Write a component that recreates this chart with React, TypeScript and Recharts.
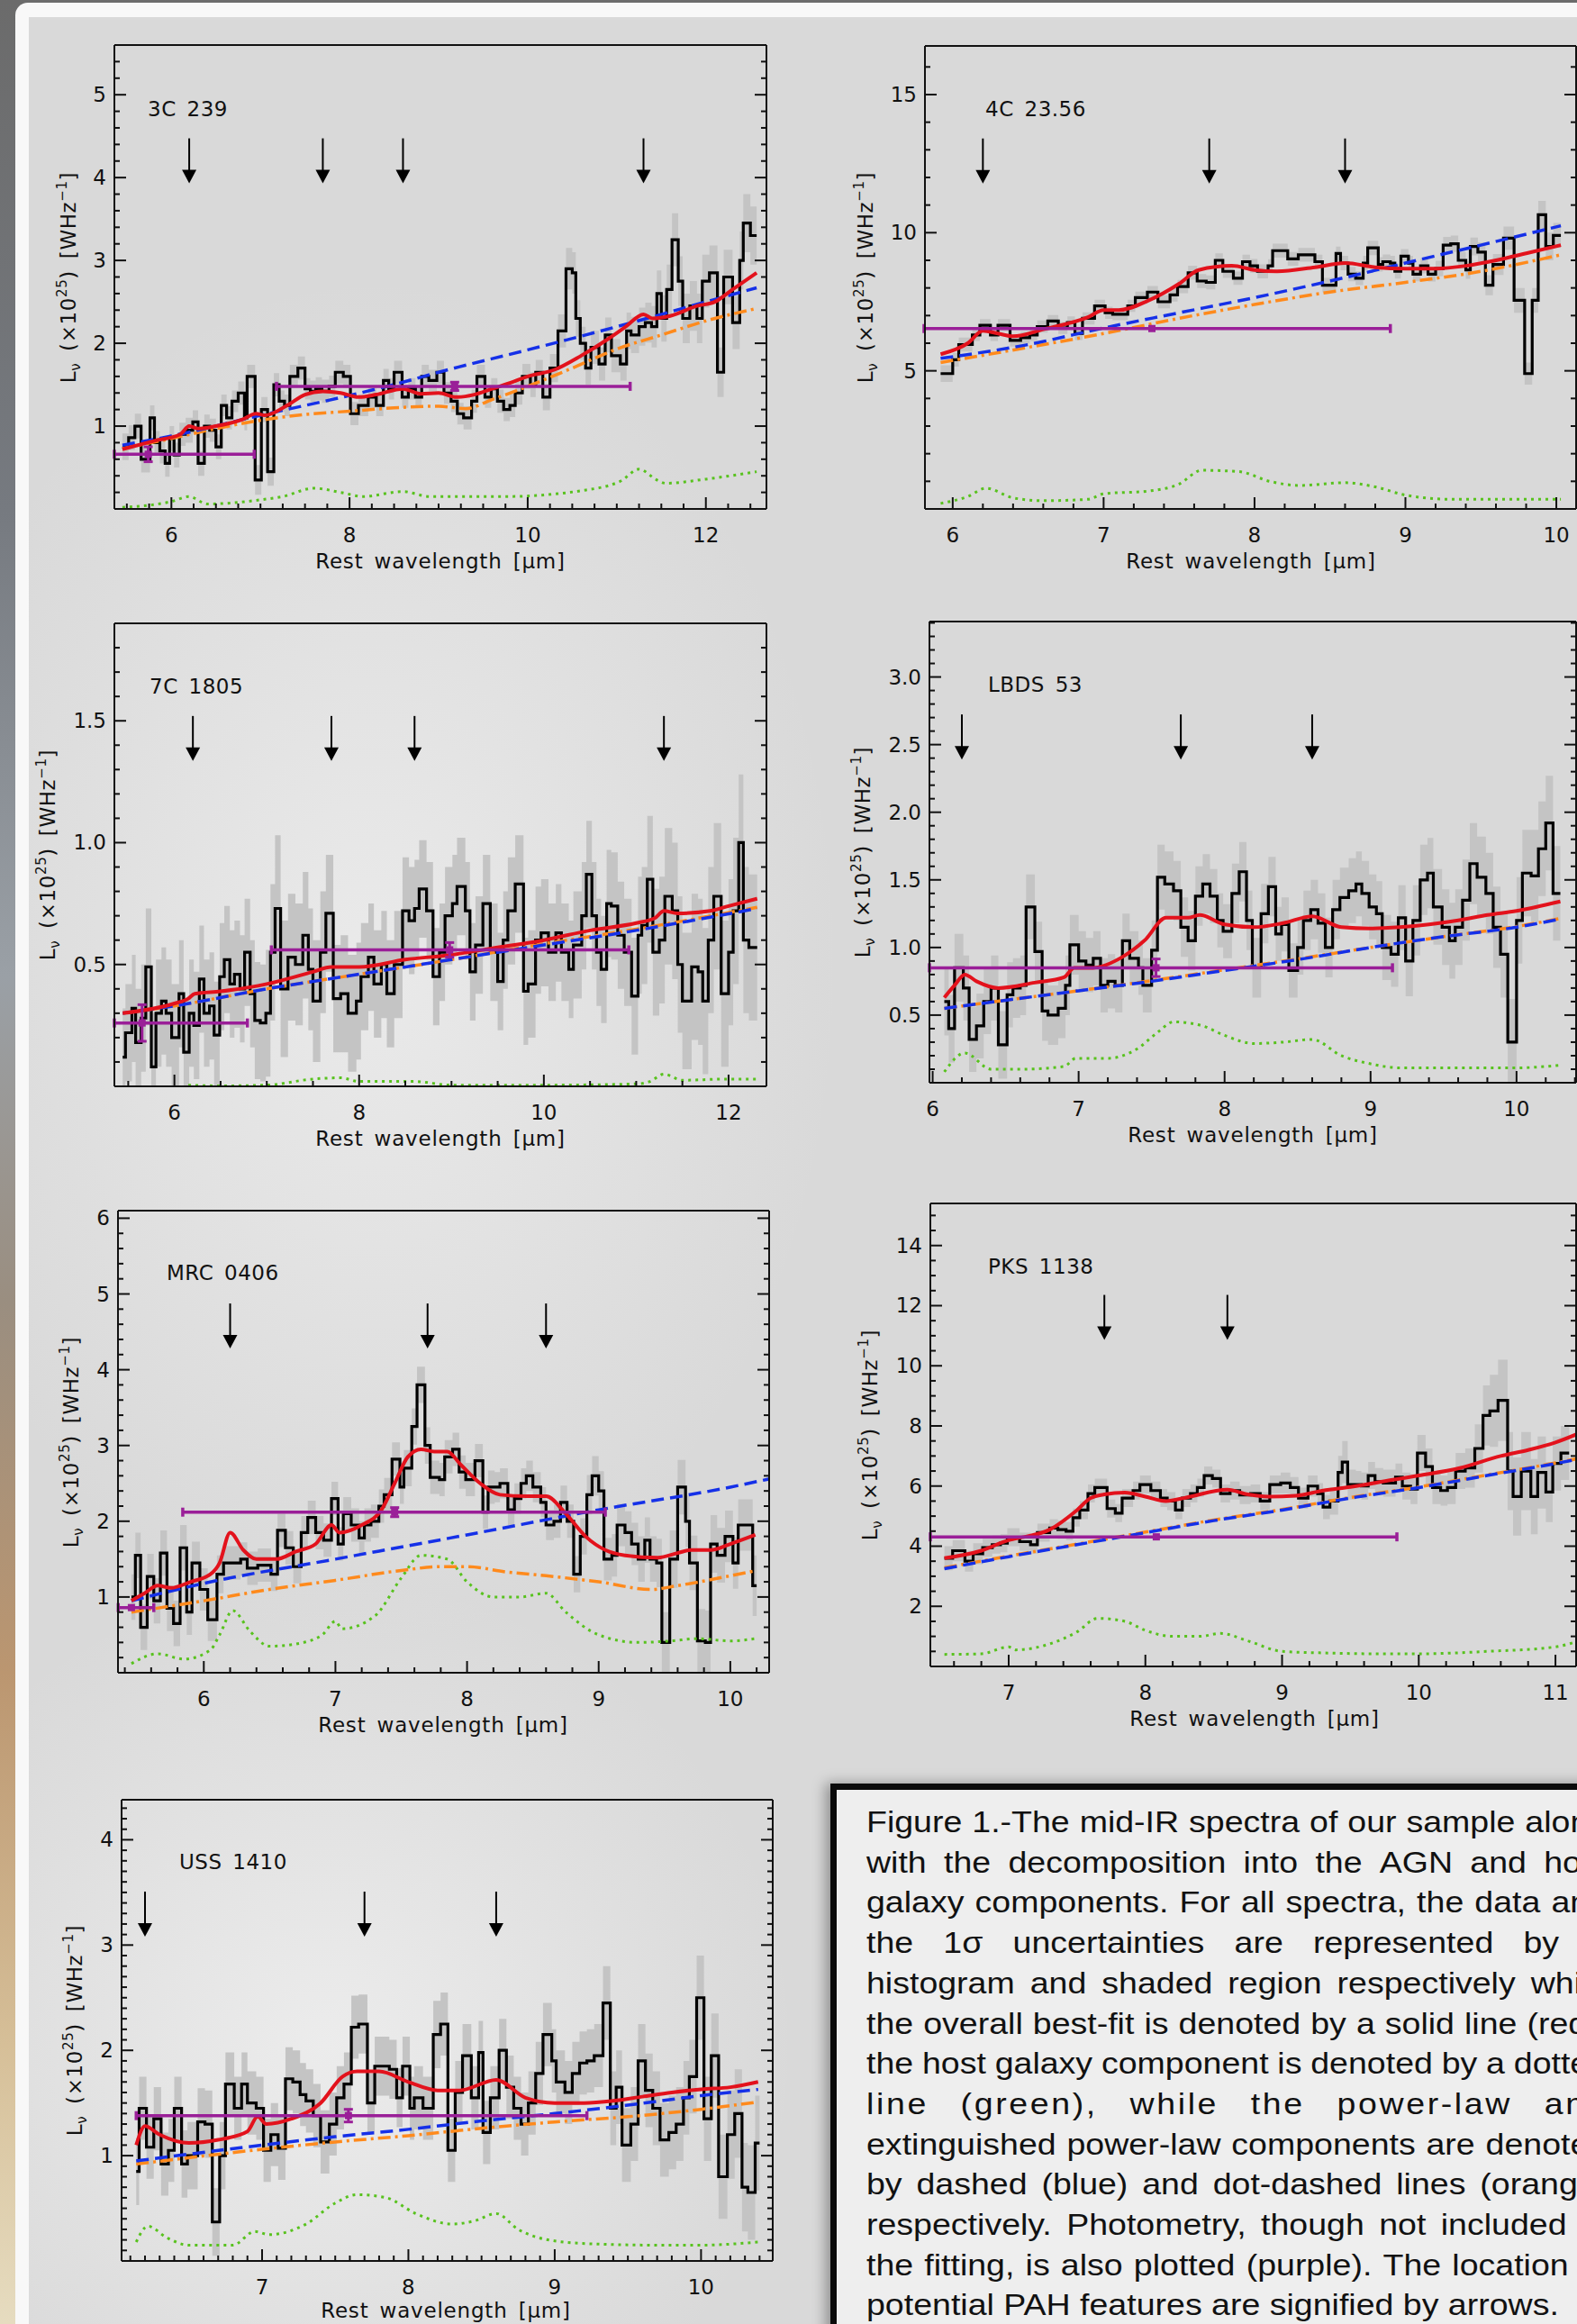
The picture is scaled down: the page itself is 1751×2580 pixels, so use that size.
import React from 'react';
import { ComposedChart, Line, Area, Scatter, XAxis, YAxis, ErrorBar } from 'recharts';

const FONT = "'DejaVu Sans', 'Liberation Sans', sans-serif";
const INK = '#111111';
const RED = '#e3121c';
const BLUE = '#1530e8';
const ORANGE = '#ff8a1c';
const GREEN = '#58c21e';
const PURPLE = '#9a1f98';
const SHADE = '#c4c4c4';

// ---------------- Panel 1: 3C 239 ----------------
const p1Wave = [5.45,5.52,5.59,5.66,5.76,5.81,5.87,5.93,5.98,6.03, 6.09,6.16,6.24,6.30,6.37,6.43,6.50,6.56,6.62,6.68, 6.75,6.82,6.85,6.94,7.01,7.08,7.15,7.21,7.27,7.33, 7.42,7.50,7.56,7.62,7.69,7.77,7.84,7.93,8.01,8.10, 8.21,8.30,8.38,8.44,8.50,8.59,8.66,8.74,8.81,8.89, 8.98,9.06,9.14,9.21,9.28,9.37,9.43,9.52,9.59,9.66, 9.73,9.80,9.86,9.94,10.03,10.09,10.17,10.25,10.34,10.43, 10.50,10.54,10.59,10.65,10.71,10.80,10.87,10.94,11.04,11.11, 11.16,11.25,11.32,11.39,11.45,11.50,11.56,11.62,11.69,11.74, 11.82,11.90,11.96,12.04,12.13,12.20,12.30,12.38,12.42,12.50, 12.57];
const p1Flux = [0.75,0.86,1.0,0.6,1.1,0.8,0.7,0.55,0.85,0.65, 0.9,0.95,1.05,0.55,1.0,0.95,0.75,1.25,1.1,1.3, 1.4,1.1,1.6,0.35,1.2,0.45,1.5,1.3,1.25,1.6, 1.7,1.45,1.42,1.45,1.42,1.48,1.65,1.6,1.15,1.25, 1.35,1.25,1.55,1.45,1.65,1.35,1.45,1.35,1.6,1.55, 1.65,1.4,1.3,1.15,1.1,1.3,1.6,1.35,1.45,1.3, 1.2,1.25,1.4,1.6,1.5,1.65,1.35,1.7,2.15,2.9, 2.85,2.3,2.0,1.7,1.95,1.75,2.1,1.85,1.75,2.15, 2.1,2.2,2.25,2.2,2.6,2.3,2.65,3.25,2.75,2.3, 2.45,2.3,2.75,2.85,1.65,2.8,2.25,3.0,3.45,3.3];
const p1Err = [0.16,0.15,0.15,0.16,0.15,0.14,0.15,0.16,0.15,0.15, 0.14,0.15,0.14,0.15,0.14,0.14,0.15,0.13,0.14,0.13, 0.14,0.15,0.14,0.18,0.15,0.17,0.14,0.13,0.13,0.14, 0.14,0.13,0.13,0.14,0.14,0.13,0.14,0.14,0.14,0.13, 0.13,0.13,0.14,0.13,0.14,0.13,0.13,0.13,0.14,0.13, 0.14,0.13,0.13,0.13,0.14,0.14,0.14,0.13,0.13,0.14, 0.14,0.14,0.14,0.15,0.15,0.15,0.16,0.17,0.2,0.25, 0.25,0.22,0.2,0.2,0.2,0.2,0.21,0.2,0.2,0.22, 0.22,0.23,0.24,0.25,0.28,0.28,0.3,0.32,0.3,0.3, 0.3,0.3,0.32,0.33,0.3,0.33,0.32,0.35,0.35,0.35];
const p1FitX = [5.45,5.8,6.1,6.2,6.3,6.5,6.8,6.95,7.05,7.3,7.5,7.7,7.9,8.1,8.3,8.6,8.8,9.0,9.2,9.4,9.6,9.8,10.0,10.3,10.6,10.9,11.1,11.3,11.4,11.6,11.9,12.1,12.3,12.57];
const p1FitY = [0.72,0.82,0.9,1.0,0.97,1.0,1.08,1.15,1.13,1.25,1.38,1.42,1.4,1.35,1.38,1.45,1.39,1.4,1.35,1.38,1.45,1.52,1.6,1.68,1.85,2.05,2.2,2.35,2.3,2.33,2.45,2.5,2.65,2.85];
const p1PlX = [5.45,6.0,7.0,8.0,8.6,9.0,10.0,11.0,12.0,12.57];
const p1PlY = [0.77,0.88,1.13,1.37,1.53,1.65,1.92,2.2,2.5,2.67];
const p1ExtX = [5.45,6.0,6.5,7.0,7.5,8.0,8.5,9.0,9.3,9.6,10.0,10.5,11.0,11.5,12.0,12.57];
const p1ExtY = [0.73,0.85,0.97,1.07,1.14,1.18,1.22,1.24,1.21,1.32,1.48,1.7,1.93,2.1,2.27,2.42];
const p1HostX = [5.45,6.0,6.2,6.4,7.0,7.25,7.6,7.9,8.15,8.6,8.9,9.75,10.6,11.05,11.25,11.45,11.55,12.0,12.57];
const p1HostY = [0.02,0.09,0.15,0.06,0.11,0.15,0.25,0.2,0.15,0.21,0.15,0.15,0.22,0.34,0.48,0.35,0.31,0.36,0.45];
const p1Arrows = [6.2, 7.7, 8.6, 11.3];
const p1PhotX = [5.74, 9.18];
const p1PhotY = [0.66, 1.48];
const p1PhotLo = [0.38, 2.0];
const p1PhotHi = [1.19, 1.97];
const p1PhotYErr = [0.09, 0.05];

// ---------------- Panel 2: 4C 23.56 ----------------
const p2Wave = [5.92,6.00,6.04,6.13,6.18,6.25,6.30,6.38,6.45,6.51, 6.56,6.63,6.70,6.76,6.81,6.86,6.94,7.01,7.06,7.16, 7.21,7.29,7.36,7.44,7.49,7.56,7.62,7.68,7.74,7.79, 7.86,7.92,7.97,8.02,8.09,8.12,8.22,8.29,8.40,8.45, 8.54,8.57,8.62,8.67,8.72,8.75,8.82,8.85,8.90,8.93, 8.97,9.02,9.05,9.10,9.15,9.20,9.25,9.30,9.35,9.40, 9.43,9.48,9.53,9.58,9.65,9.72,9.79,9.84,9.88,9.93, 9.98,10.03];
const p2Flux = [4.9,5.4,5.95,6.3,6.65,6.3,6.65,6.1,6.2,6.3, 6.6,6.8,6.55,6.75,6.35,6.9,7.35,7.1,7.05,7.35, 7.65,7.85,7.5,7.75,8.05,8.55,8.25,8.2,9.0,8.6, 8.35,8.95,8.8,8.6,8.8,9.35,9.05,9.2,8.95,8.1, 9.25,8.9,8.5,8.35,8.9,9.45,8.85,8.95,8.9,8.6, 9.15,8.9,8.5,8.8,8.5,8.7,9.55,9.6,9.0,8.65, 9.5,9.3,8.1,8.85,9.8,7.55,4.9,7.55,10.65,9.5, 9.9];
const p2Err = [0.3,0.25,0.25,0.22,0.22,0.22,0.22,0.22,0.22,0.22, 0.22,0.22,0.22,0.22,0.24,0.22,0.22,0.22,0.22,0.22, 0.22,0.22,0.24,0.24,0.24,0.25,0.25,0.25,0.25,0.24, 0.24,0.25,0.25,0.25,0.24,0.25,0.25,0.25,0.25,0.26, 0.25,0.26,0.26,0.25,0.26,0.26,0.26,0.26,0.26,0.26, 0.26,0.26,0.26,0.27,0.27,0.28,0.3,0.3,0.3,0.32, 0.32,0.34,0.36,0.38,0.42,0.45,0.4,0.45,0.5,0.5, 0.45];
const p2FitX = [5.92,6.1,6.2,6.3,6.4,6.6,6.9,7.0,7.1,7.3,7.5,7.63,7.85,8.0,8.15,8.4,8.6,8.8,9.0,9.2,9.4,9.6,9.8,10.03];
const p2FitY = [5.6,6.0,6.45,6.35,6.25,6.5,6.95,7.2,7.2,7.55,8.15,8.65,8.8,8.65,8.6,8.75,8.9,8.75,8.7,8.7,8.8,9.0,9.25,9.55];
const p2PlX = [5.92,6.5,7.0,7.5,8.0,8.5,9.0,9.5,10.03];
const p2PlY = [5.45,5.95,6.55,7.1,7.65,8.25,8.9,9.55,10.25];
const p2ExtX = [5.92,6.5,7.0,7.5,8.0,8.5,9.0,9.5,10.03];
const p2ExtY = [5.3,5.85,6.35,6.9,7.4,7.85,8.2,8.6,9.2];
const p2HostX = [5.92,6.1,6.22,6.4,6.6,6.9,7.0,7.3,7.5,7.65,7.9,8.1,8.3,8.6,8.8,9.0,9.3,10.03];
const p2HostY = [0.2,0.45,0.75,0.4,0.3,0.35,0.55,0.65,0.9,1.4,1.35,1.0,0.85,0.95,0.8,0.5,0.35,0.35];
const p2Arrows = [6.2, 7.7, 8.6];
const p2PhotX = [7.32];
const p2PhotY = [6.53];
const p2PhotLo = [1.51];
const p2PhotHi = [1.58];
const p2PhotYErr = [0];

// ---------------- Panel 3: 7C 1805 ----------------
const p3Wave = [5.44,5.47,5.54,5.58,5.64,5.69,5.75,5.80,5.86,5.91, 5.97,6.05,6.10,6.16,6.21,6.27,6.32,6.38,6.43,6.49, 6.54,6.60,6.65,6.71,6.76,6.82,6.87,6.93,6.99,7.04, 7.09,7.15,7.23,7.31,7.39,7.45,7.50,7.58,7.64,7.72, 7.80,7.88,7.97,8.02,8.10,8.16,8.24,8.30,8.38,8.47, 8.54,8.60,8.65,8.73,8.80,8.87,8.93,9.01,9.06,9.15, 9.20,9.26,9.34,9.42,9.50,9.56,9.61,9.69,9.78,9.83, 9.91,9.97,10.05,10.13,10.19,10.27,10.32,10.41,10.46,10.52, 10.57,10.62,10.68,10.73,10.80,10.87,10.95,11.02,11.06,11.12, 11.18,11.25,11.31,11.39,11.45,11.50,11.60,11.67,11.72,11.78, 11.84,11.92,12.00,12.05,12.11,12.16,12.22,12.31];
const p3Flux = [0.12,0.22,0.32,0.18,0.28,0.49,0.08,0.3,0.35,0.3, 0.2,0.38,0.14,0.3,0.25,0.44,0.3,0.33,0.21,0.45, 0.52,0.42,0.46,0.4,0.55,0.38,0.27,0.26,0.3,0.55, 0.73,0.4,0.53,0.5,0.62,0.48,0.35,0.55,0.71,0.36, 0.38,0.3,0.35,0.45,0.53,0.42,0.5,0.38,0.5,0.72, 0.68,0.73,0.81,0.72,0.45,0.55,0.7,0.75,0.82,0.72, 0.47,0.58,0.75,0.55,0.43,0.6,0.72,0.83,0.39,0.42, 0.6,0.63,0.55,0.63,0.55,0.48,0.58,0.7,0.87,0.7, 0.55,0.48,0.75,0.74,0.62,0.55,0.37,0.62,0.66,0.85, 0.55,0.6,0.78,0.72,0.5,0.35,0.49,0.47,0.35,0.6, 0.78,0.38,0.55,0.72,1.0,0.6,0.57];
const p3Err = [0.2,0.2,0.22,0.22,0.22,0.24,0.22,0.22,0.22,0.22, 0.22,0.22,0.22,0.22,0.22,0.22,0.22,0.22,0.22,0.22, 0.22,0.22,0.22,0.22,0.22,0.22,0.24,0.24,0.26,0.28, 0.3,0.28,0.26,0.25,0.26,0.25,0.25,0.25,0.24,0.22, 0.24,0.24,0.24,0.22,0.22,0.22,0.22,0.22,0.22,0.22, 0.22,0.2,0.2,0.2,0.2,0.2,0.2,0.2,0.2,0.2, 0.2,0.2,0.2,0.2,0.2,0.2,0.22,0.2,0.22,0.22, 0.22,0.22,0.2,0.2,0.2,0.2,0.22,0.22,0.22,0.22, 0.22,0.22,0.22,0.22,0.22,0.22,0.24,0.24,0.24,0.26, 0.26,0.26,0.28,0.28,0.28,0.28,0.3,0.3,0.3,0.3, 0.3,0.3,0.3,0.3,0.28,0.3,0.3];
const p3FitX = [5.44,6.0,6.15,6.22,6.5,7.0,7.5,7.7,8.0,8.5,9.0,9.5,10.0,10.5,11.0,11.2,11.3,11.45,11.8,12.0,12.31];
const p3FitY = [0.3,0.34,0.36,0.38,0.39,0.42,0.47,0.49,0.49,0.52,0.54,0.57,0.6,0.64,0.67,0.69,0.72,0.71,0.72,0.74,0.77];
const p3PlX = [5.44,6.0,7.0,8.0,9.0,10.0,11.0,12.31];
const p3PlY = [0.3,0.33,0.4,0.46,0.52,0.58,0.64,0.73];
const p3ExtX = [5.44,6.0,7.0,8.0,9.0,10.0,11.0,12.31];
const p3ExtY = [0.3,0.33,0.4,0.46,0.52,0.585,0.645,0.735];
const p3HostX = [6.15,6.5,7.0,7.5,7.8,8.0,8.6,9.0,10.0,11.0,11.15,11.3,11.5,12.0,12.31];
const p3HostY = [0.005,0.002,0.005,0.03,0.035,0.02,0.02,0.005,0.005,0.01,0.02,0.05,0.025,0.03,0.03];
const p3Arrows = [6.2, 7.7, 8.6, 11.3];
const p3PhotX = [5.65, 8.98];
const p3PhotY = [0.26, 0.56];
const p3PhotLo = [0.3, 1.93];
const p3PhotHi = [1.14, 1.94];
const p3PhotYErr = [0.075, 0.03];

// ---------------- Panel 4: LBDS 53 ----------------
const p4Wave = [6.08,6.11,6.15,6.21,6.25,6.30,6.35,6.40,6.45,6.51, 6.55,6.60,6.64,6.70,6.75,6.79,6.86,6.91,6.94,7.00, 7.05,7.10,7.15,7.20,7.25,7.30,7.35,7.41,7.44,7.50, 7.54,7.59,7.65,7.70,7.75,7.80,7.85,7.90,7.95,7.99, 8.05,8.10,8.15,8.19,8.25,8.30,8.35,8.39,8.44,8.50, 8.54,8.59,8.64,8.69,8.74,8.79,8.85,8.90,8.94,8.99, 9.04,9.08,9.14,9.19,9.24,9.29,9.34,9.39,9.43,9.49, 9.54,9.58,9.63,9.68,9.73,9.79,9.84,9.89,9.94,10.00, 10.04,10.10,10.15,10.20,10.25,10.30];
const p4Flux = [0.6,0.4,0.85,0.7,0.32,0.42,0.6,0.7,0.28,0.65, 0.7,0.72,1.3,0.97,0.53,0.5,0.55,0.72,1.02,0.9, 0.87,0.92,0.72,0.75,0.72,1.05,0.92,0.85,0.72,0.98, 1.52,1.47,1.42,1.15,1.05,1.38,1.47,1.38,1.2,1.12, 1.4,1.56,1.2,0.85,1.25,1.45,1.1,1.17,0.83,1.0, 1.2,1.28,1.18,1.0,1.28,1.37,1.42,1.47,1.4,1.3, 1.25,1.0,0.95,1.22,0.9,1.2,1.5,1.55,1.3,1.15, 1.05,1.15,1.35,1.62,1.52,1.4,1.15,0.95,0.3,1.2, 1.55,1.53,1.73,1.92,1.4];
const p4Err = [0.25,0.25,0.25,0.24,0.24,0.24,0.24,0.24,0.25,0.24, 0.22,0.22,0.24,0.22,0.22,0.22,0.22,0.22,0.22,0.22, 0.2,0.2,0.2,0.2,0.2,0.2,0.2,0.2,0.2,0.22, 0.24,0.24,0.22,0.22,0.22,0.22,0.22,0.2,0.2,0.2, 0.22,0.22,0.22,0.22,0.22,0.22,0.2,0.2,0.2,0.2, 0.22,0.22,0.22,0.22,0.22,0.22,0.24,0.24,0.24,0.24, 0.24,0.24,0.24,0.24,0.26,0.26,0.26,0.26,0.28,0.28, 0.28,0.28,0.3,0.3,0.3,0.3,0.3,0.32,0.32,0.32, 0.32,0.34,0.35,0.35,0.35];
const p4FitX = [6.08,6.15,6.22,6.3,6.45,6.7,6.9,6.97,7.1,7.3,7.45,7.6,7.75,7.83,8.0,8.2,8.4,8.6,8.8,9.0,9.2,9.4,9.6,9.8,10.0,10.3];
const p4FitY = [0.63,0.72,0.8,0.75,0.7,0.74,0.78,0.85,0.85,0.93,1.05,1.22,1.22,1.24,1.17,1.15,1.18,1.23,1.15,1.14,1.15,1.17,1.2,1.24,1.27,1.34];
const p4PlX = [6.08,6.5,7.0,7.5,8.0,8.5,9.0,9.5,10.0,10.3];
const p4PlY = [0.55,0.61,0.68,0.75,0.83,0.91,1.0,1.08,1.15,1.21];
const p4ExtX = [6.08,6.5,7.0,7.5,8.0,8.5,9.0,9.5,10.0,10.3];
const p4ExtY = [0.55,0.61,0.68,0.755,0.835,0.915,1.0,1.08,1.155,1.215];
const p4HostX = [6.08,6.22,6.4,6.6,6.9,6.98,7.2,7.4,7.55,7.65,7.85,8.0,8.2,8.4,8.6,8.8,9.0,9.2,9.6,10.0,10.3];
const p4HostY = [0.08,0.22,0.1,0.1,0.12,0.18,0.18,0.25,0.38,0.45,0.42,0.35,0.29,0.3,0.32,0.2,0.14,0.11,0.11,0.11,0.13];
const p4Arrows = [6.2, 7.7, 8.6];
const p4PhotX = [7.53];
const p4PhotY = [0.85];
const p4PhotLo = [1.552];
const p4PhotHi = [1.62];
const p4PhotYErr = [0.065];

// ---------------- Panel 5: MRC 0406 ----------------
const p5Wave = [5.45,5.48,5.52,5.57,5.62,5.67,5.72,5.77,5.82,5.87, 5.91,5.97,6.03,6.10,6.15,6.22,6.28,6.33,6.41,6.51, 6.56,6.62,6.68,6.74,6.79,6.85,6.91,6.97,7.02,7.06, 7.12,7.18,7.22,7.27,7.33,7.37,7.43,7.49,7.52,7.58, 7.62,7.68,7.72,7.79,7.83,7.89,7.94,7.99,8.06,8.12, 8.16,8.21,8.25,8.31,8.36,8.41,8.45,8.50,8.56,8.60, 8.66,8.71,8.76,8.81,8.86,8.91,8.95,9.00,9.04,9.10, 9.14,9.20,9.25,9.30,9.35,9.39,9.44,9.48,9.54,9.60, 9.66,9.69,9.75,9.81,9.85,9.90,9.96,10.02,10.06,10.12, 10.17,10.20];
const p5Flux = [1.0,1.55,0.6,1.27,0.95,1.58,0.85,0.65,1.65,0.8, 1.45,1.1,0.7,1.3,1.45,1.45,1.5,1.38,1.42,1.3, 1.88,1.65,1.4,1.85,2.05,1.85,1.75,2.3,1.7,2.1, 1.95,1.78,1.95,2.0,2.2,2.35,2.82,2.45,2.7,3.25, 3.8,3.0,2.58,2.55,2.85,2.95,2.65,2.55,2.8,2.12, 2.45,2.45,2.5,2.15,2.3,2.5,2.6,2.45,2.25,1.95, 2.0,2.25,2.0,1.3,1.8,2.35,2.6,2.4,1.5,1.55, 1.95,1.85,1.7,1.5,1.75,1.5,1.45,0.4,1.5,2.45, 2.0,1.45,0.42,0.4,1.7,1.55,1.8,1.45,1.95,1.95, 1.15];
const p5Err = [0.3,0.3,0.3,0.3,0.3,0.3,0.3,0.3,0.3,0.3, 0.28,0.28,0.28,0.25,0.22,0.22,0.22,0.22,0.22,0.22, 0.22,0.22,0.22,0.22,0.22,0.22,0.22,0.22,0.22,0.22, 0.22,0.22,0.22,0.22,0.22,0.22,0.22,0.22,0.24,0.24, 0.24,0.24,0.22,0.22,0.22,0.22,0.22,0.22,0.22,0.22, 0.22,0.2,0.2,0.2,0.2,0.2,0.2,0.2,0.2,0.2, 0.22,0.22,0.22,0.24,0.24,0.26,0.26,0.26,0.28,0.28, 0.28,0.28,0.28,0.3,0.3,0.3,0.32,0.4,0.38,0.36, 0.34,0.36,0.42,0.42,0.38,0.36,0.34,0.34,0.34,0.34, 0.4];
const p5FitX = [5.45,5.55,5.65,5.75,5.9,6.05,6.12,6.2,6.3,6.4,6.55,6.7,6.85,6.97,7.03,7.2,7.35,7.45,7.55,7.65,7.75,7.85,7.95,8.1,8.25,8.45,8.6,8.75,8.9,9.05,9.2,9.45,9.6,9.7,9.85,10.0,10.19];
const p5FitY = [0.95,1.05,1.15,1.12,1.2,1.3,1.45,1.85,1.62,1.5,1.5,1.6,1.7,1.95,1.85,1.95,2.15,2.5,2.85,2.95,2.92,2.92,2.75,2.5,2.35,2.33,2.33,2.1,1.8,1.62,1.55,1.52,1.58,1.62,1.62,1.7,1.82];
const p5PlX = [5.45,6.0,7.0,8.0,9.0,10.0,10.3];
const p5PlY = [0.95,1.18,1.5,1.82,2.15,2.45,2.56];
const p5ExtX = [5.45,6.0,6.5,7.0,7.5,7.8,8.0,8.3,8.6,9.0,9.4,9.6,10.0,10.2];
const p5ExtY = [0.8,0.95,1.1,1.22,1.35,1.4,1.4,1.33,1.28,1.2,1.1,1.15,1.28,1.35];
const p5HostX = [5.45,5.65,5.85,6.05,6.12,6.22,6.35,6.5,6.7,6.9,7.0,7.05,7.3,7.5,7.65,7.85,8.0,8.2,8.4,8.6,8.75,9.0,9.3,9.55,9.75,10.0,10.19];
const p5HostY = [0.12,0.25,0.18,0.3,0.5,0.82,0.55,0.35,0.38,0.5,0.68,0.58,0.75,1.25,1.55,1.5,1.2,1.0,1.0,1.05,0.8,0.5,0.4,0.42,0.45,0.42,0.45];
const p5Arrows = [6.2, 7.7, 8.6];
const p5PhotX = [5.45, 7.45];
const p5PhotY = [0.86, 2.12];
const p5PhotLo = [0.1, 1.61];
const p5PhotHi = [0.17, 1.6];
const p5PhotYErr = [0, 0.06];

// ---------------- Panel 6: PKS 1138 ----------------
const p6Wave = [6.53,6.59,6.68,6.74,6.81,6.88,6.94,6.99,7.08,7.16, 7.21,7.30,7.36,7.42,7.47,7.52,7.58,7.63,7.72,7.78, 7.83,7.91,7.96,8.04,8.11,8.16,8.22,8.27,8.33,8.38, 8.43,8.49,8.55,8.62,8.69,8.77,8.84,8.91,8.99,9.06, 9.12,9.19,9.26,9.30,9.35,9.41,9.44,9.48,9.54,9.58, 9.63,9.68,9.74,9.83,9.88,9.94,9.99,10.05,10.10,10.16, 10.21,10.27,10.34,10.41,10.47,10.52,10.58,10.65,10.69,10.75, 10.82,10.87,10.93,10.98,11.04,11.10];
const p6Flux = [3.6,3.85,3.5,3.75,3.95,4.05,4.1,4.3,4.15,4.05, 4.45,4.6,4.55,4.5,4.95,5.2,5.75,5.95,5.25,5.1, 5.6,5.85,6.05,5.85,5.6,5.5,5.2,5.6,5.75,5.95, 6.35,6.25,5.75,5.85,5.7,5.75,5.5,6.05,6.1,5.95, 5.6,6.0,5.75,5.3,5.5,6.45,6.8,6.05,6.05,6.0, 6.35,6.15,6.1,6.3,6.0,5.9,7.1,6.65,5.95,5.85, 5.95,6.5,6.6,7.25,8.35,8.5,8.85,6.5,5.65,6.5, 5.65,6.45,5.8,6.75,7.1];
const p6Err = [0.4,0.35,0.35,0.35,0.3,0.3,0.3,0.3,0.3,0.3, 0.3,0.3,0.3,0.3,0.3,0.3,0.3,0.3,0.3,0.3, 0.3,0.3,0.3,0.3,0.3,0.3,0.3,0.3,0.3,0.3, 0.3,0.3,0.3,0.3,0.3,0.3,0.3,0.3,0.35,0.35, 0.35,0.35,0.35,0.4,0.45,0.55,0.7,0.5,0.45,0.45, 0.45,0.45,0.45,0.45,0.45,0.5,0.6,0.6,0.55,0.5, 0.55,0.6,0.65,0.8,1.0,1.2,1.35,1.3,1.3,1.3, 1.25,1.2,1.0,0.9,0.9];
const p6FitX = [6.53,6.8,7.0,7.05,7.3,7.5,7.6,7.7,7.85,8.0,8.15,8.3,8.6,8.75,8.9,9.1,9.3,9.5,9.8,10.0,10.3,10.6,10.8,11.0,11.17];
const p6FitY = [3.6,3.85,4.2,4.25,4.55,5.2,5.6,5.72,5.78,5.65,5.5,5.62,5.88,5.72,5.65,5.68,5.85,5.97,6.2,6.35,6.6,7.0,7.2,7.45,7.75];
const p6PlX = [6.53,7.0,7.5,8.0,8.5,9.0,9.5,10.0,10.5,11.0,11.17];
const p6PlY = [3.25,3.65,4.05,4.45,4.85,5.2,5.6,5.95,6.35,6.75,6.9];
const p6ExtX = [6.53,7.0,7.5,8.0,8.5,9.0,9.5,10.0,10.5,11.0,11.17];
const p6ExtY = [3.28,3.67,4.07,4.47,4.87,5.22,5.62,5.97,6.37,6.77,6.92];
const p6HostX = [6.53,6.8,7.0,7.05,7.3,7.5,7.65,7.85,8.0,8.2,8.4,8.55,8.75,9.0,9.3,9.7,10.0,10.5,11.0,11.17];
const p6HostY = [0.4,0.42,0.65,0.55,0.75,1.15,1.6,1.5,1.2,1.0,1.0,1.1,0.85,0.5,0.45,0.42,0.42,0.5,0.65,0.85];
const p6Arrows = [7.7, 8.6];
const p6PhotX = [8.08];
const p6PhotY = [4.31];
const p6PhotLo = [1.653];
const p6PhotHi = [1.76];
const p6PhotYErr = [0];

// ---------------- Panel 7: USS 1410 ----------------
const p7Wave = [6.14,6.16,6.21,6.26,6.31,6.36,6.40,6.45,6.49,6.56, 6.61,6.66,6.71,6.75,6.81,6.86,6.90,6.96,7.01,7.06, 7.11,7.16,7.21,7.26,7.30,7.35,7.40,7.46,7.51,7.56, 7.61,7.66,7.72,7.77,7.82,7.87,7.92,7.96,8.01,8.04, 8.10,8.17,8.22,8.27,8.32,8.37,8.43,8.48,8.51,8.56, 8.62,8.67,8.72,8.77,8.82,8.87,8.92,8.98,9.01,9.07, 9.12,9.17,9.22,9.27,9.33,9.38,9.42,9.46,9.52,9.57, 9.62,9.67,9.72,9.78,9.83,9.88,9.92,9.97,10.02,10.07, 10.12,10.18,10.23,10.28,10.32,10.37,10.40];
const p7Flux = [0.85,1.45,1.08,1.35,0.92,1.05,1.45,0.92,1.0,1.32, 1.3,0.37,1.0,1.68,1.45,1.68,1.5,1.45,1.05,1.2, 1.07,1.73,1.7,1.58,1.52,1.38,1.13,1.3,1.55,1.68, 2.22,2.25,1.5,1.85,1.85,1.82,1.55,1.85,1.45,1.55, 1.45,2.15,2.25,1.05,1.6,1.95,1.55,1.98,1.22,1.55, 2.0,1.65,1.45,1.3,1.5,1.78,2.15,1.9,1.7,1.6, 1.78,1.88,1.9,1.95,2.45,1.45,1.65,1.1,1.3,1.9, 1.62,1.45,1.15,1.22,1.3,1.55,1.75,2.5,1.35,1.95, 0.8,1.2,1.4,0.7,0.65,1.12];
const p7Err = [0.32,0.3,0.3,0.3,0.3,0.3,0.3,0.32,0.32,0.32, 0.32,0.32,0.32,0.3,0.3,0.3,0.3,0.3,0.3,0.3, 0.3,0.3,0.3,0.3,0.3,0.3,0.3,0.3,0.3,0.3, 0.3,0.28,0.28,0.28,0.28,0.28,0.28,0.28,0.3,0.3, 0.3,0.32,0.3,0.3,0.3,0.3,0.3,0.3,0.3,0.3, 0.3,0.3,0.3,0.3,0.3,0.3,0.3,0.3,0.3,0.3, 0.3,0.3,0.3,0.3,0.35,0.35,0.35,0.35,0.35,0.35, 0.35,0.35,0.35,0.35,0.35,0.35,0.35,0.4,0.4,0.4, 0.4,0.42,0.42,0.42,0.45,0.45];
const p7FitX = [6.14,6.2,6.3,6.5,6.7,6.9,6.97,7.03,7.2,7.4,7.55,7.65,7.8,8.0,8.2,8.35,8.6,8.8,9.0,9.2,9.4,9.6,9.8,10.0,10.2,10.39];
const p7FitY = [1.1,1.28,1.2,1.12,1.15,1.23,1.37,1.3,1.35,1.5,1.75,1.8,1.8,1.7,1.62,1.62,1.72,1.55,1.5,1.5,1.52,1.56,1.6,1.63,1.65,1.7];
const p7PlX = [6.14,7.0,7.5,8.0,8.5,9.0,9.5,10.0,10.39];
const p7PlY = [0.95,1.1,1.18,1.25,1.33,1.4,1.48,1.57,1.63];
const p7ExtX = [6.14,7.0,7.5,8.0,8.5,9.0,9.5,10.0,10.39];
const p7ExtY = [0.92,1.06,1.13,1.19,1.26,1.32,1.37,1.44,1.51];
const p7HostX = [6.14,6.22,6.35,6.5,6.8,6.95,7.05,7.3,7.5,7.65,7.85,8.05,8.3,8.45,8.6,8.75,9.0,9.3,9.7,10.0,10.39];
const p7HostY = [0.18,0.33,0.22,0.15,0.15,0.28,0.25,0.35,0.55,0.63,0.6,0.45,0.35,0.38,0.45,0.3,0.19,0.16,0.15,0.15,0.18];
const p7Arrows = [6.2, 7.7, 8.6];
const p7PhotX = [7.59];
const p7PhotY = [1.38];
const p7PhotLo = [1.45];
const p7PhotHi = [1.63];
const p7PhotYErr = [0.06];

// ---------------- Caption ----------------
const CAPTION_LINES = [
  'Figure 1.-The mid-IR spectra of our sample along',
  'with the decomposition into the AGN and host',
  'galaxy components. For all spectra, the data and',
  'the 1\u03c3 uncertainties are represented by a',
  'histogram and shaded region respectively while',
  'the overall best-fit is denoted by a solid line (red),',
  'the host galaxy component is denoted by a dotted',
  'line (green), while the power-law and',
  'extinguished power-law components are denoted',
  'by dashed (blue) and dot-dashed lines (orange)',
  'respectively. Photometry, though not included in',
  'the fitting, is also plotted (purple). The location of',
  'potential PAH features are signified by arrows.',
];

// ---------------- helpers ----------------
function tickList(d: number[], step: number) {
  const out: number[] = [];
  const start = Math.ceil(d[0] / step - 1e-9);
  for (let i = start; i * step <= d[1] + 1e-9; i++) out.push(Math.round(i * step * 1000) / 1000);
  return out;
}
function histPoints(wave: number[], flux: number[]) {
  const pts = flux.map((f, i) => ({ x: wave[i], y: f }));
  pts.push({ x: wave[flux.length], y: flux[flux.length - 1] });
  return pts;
}
function bandPoints(wave: number[], flux: number[], err: number[]) {
  const pts: any[] = flux.map((f, i) => ({ x: wave[i], band: [f - err[i], f + err[i]] }));
  const n = flux.length;
  pts.push({ x: wave[n], band: [flux[n - 1] - err[n - 1], flux[n - 1] + err[n - 1]] });
  return pts;
}
function curve(xs: number[], ys: number[]) {
  return xs.map((x, i) => ({ x, y: ys[i] }));
}
function photPoints(xs: number[], ys: number[], lo: number[], hi: number[], ye: number[]) {
  return xs.map((x, i) => ({ x, y: ys[i], xe: [lo[i], hi[i]], ye: ye[i] }));
}

const TICK_TXT: any = { fontFamily: FONT, fontSize: 23, fill: INK };

function makeTick(side: string, labels: number[], dec: number) {
  return (props: any) => {
    const { x, y, payload } = props;
    const v = payload.value;
    const major = labels.some((l) => Math.abs(l - v) < 1e-6);
    const len = major ? 13 : 6;
    const st = { stroke: INK, strokeWidth: 2 };
    const lab = major ? Number(v).toFixed(dec) : null;
    if (side === 'b') {
      return (
        <g>
          <line x1={x} y1={y} x2={x} y2={y - len} {...st} />
          {lab !== null && (
            <text x={x} y={y + 29} textAnchor="middle" dominantBaseline="central" style={TICK_TXT}>{lab}</text>
          )}
        </g>
      );
    }
    if (side === 't') return <line x1={x} y1={y} x2={x} y2={y + len} {...st} />;
    if (side === 'l') {
      return (
        <g>
          <line x1={x} y1={y} x2={x + len} y2={y} {...st} />
          {lab !== null && (
            <text x={x - 9} y={y} textAnchor="end" dominantBaseline="central" style={TICK_TXT}>{lab}</text>
          )}
        </g>
      );
    }
    return <line x1={x} y1={y} x2={x - len} y2={y} {...st} />;
  };
}

const ArrowMark = (p: any) => {
  const { cx, cy } = p;
  if (cx == null || cy == null) return <g />;
  return (
    <g>
      <line x1={cx} y1={cy - 50} x2={cx} y2={cy - 12} stroke="#000" strokeWidth={2} />
      <polygon points={`${cx - 8},${cy - 15} ${cx + 8},${cy - 15} ${cx},${cy}`} fill="#000" />
    </g>
  );
};
const PhotMark = (p: any) => {
  const { cx, cy } = p;
  if (cx == null || cy == null) return <g />;
  return <rect x={cx - 4} y={cy - 4} width={8} height={8} fill={PURPLE} />;
};

const PANELS: any[] = [
  { name: '3C 239', L: 127, T: 50, R: 851, B: 565, xd: [5.36, 12.68], yd: [0, 5.6], xl: [6, 8, 10, 12], xm: 0.25, yl: [1, 2, 3, 4, 5], ym: 0.2, yDec: 0,
    wave: p1Wave, flux: p1Flux, err: p1Err, fitX: p1FitX, fitY: p1FitY, plX: p1PlX, plY: p1PlY, extX: p1ExtX, extY: p1ExtY, hostX: p1HostX, hostY: p1HostY,
    arrows: p1Arrows, tip: 3.93, phot: photPoints(p1PhotX, p1PhotY, p1PhotLo, p1PhotHi, p1PhotYErr), nameX: 164, nameY: 121, yTitleX: 76, xTitleX: 489 },
  { name: '4C 23.56', L: 1027, T: 51, R: 1750, B: 565, xd: [5.816, 10.131], yd: [0, 16.76], xl: [6, 7, 8, 9, 10], xm: 0.2, yl: [5, 10, 15], ym: 1, yDec: 0,
    wave: p2Wave, flux: p2Flux, err: p2Err, fitX: p2FitX, fitY: p2FitY, plX: p2PlX, plY: p2PlY, extX: p2ExtX, extY: p2ExtY, hostX: p2HostX, hostY: p2HostY,
    arrows: p2Arrows, tip: 11.78, phot: photPoints(p2PhotX, p2PhotY, p2PhotLo, p2PhotHi, p2PhotYErr), nameX: 1094, nameY: 121, yTitleX: 961, xTitleX: 1389 },
  { name: '7C 1805', L: 127, T: 692, R: 851, B: 1206, xd: [5.35, 12.41], yd: [0, 1.9], xl: [6, 8, 10, 12], xm: 0.5, yl: [0.5, 1.0, 1.5], ym: 0.1, yDec: 1,
    wave: p3Wave, flux: p3Flux, err: p3Err, fitX: p3FitX, fitY: p3FitY, plX: p3PlX, plY: p3PlY, extX: p3ExtX, extY: p3ExtY, hostX: p3HostX, hostY: p3HostY,
    arrows: p3Arrows, tip: 1.335, phot: photPoints(p3PhotX, p3PhotY, p3PhotLo, p3PhotHi, p3PhotYErr), nameX: 166, nameY: 762, yTitleX: 53, xTitleX: 489 },
  { name: 'LBDS 53', L: 1032, T: 690, R: 1750, B: 1202, xd: [5.978, 10.408], yd: [0, 3.41], xl: [6, 7, 8, 9, 10], xm: 0.2, yl: [0.5, 1.0, 1.5, 2.0, 2.5, 3.0], ym: 0.1, yDec: 1,
    wave: p4Wave, flux: p4Flux, err: p4Err, fitX: p4FitX, fitY: p4FitY, plX: p4PlX, plY: p4PlY, extX: p4ExtX, extY: p4ExtY, hostX: p4HostX, hostY: p4HostY,
    arrows: p4Arrows, tip: 2.39, phot: photPoints(p4PhotX, p4PhotY, p4PhotLo, p4PhotHi, p4PhotYErr), nameX: 1097, nameY: 760, yTitleX: 958, xTitleX: 1391 },
  { name: 'MRC 0406', L: 131, T: 1344, R: 854, B: 1857, xd: [5.348, 10.295], yd: [0, 6.1], xl: [6, 7, 8, 9, 10], xm: 0.2, yl: [1, 2, 3, 4, 5, 6], ym: 0.2, yDec: 0,
    wave: p5Wave, flux: p5Flux, err: p5Err, fitX: p5FitX, fitY: p5FitY, plX: p5PlX, plY: p5PlY, extX: p5ExtX, extY: p5ExtY, hostX: p5HostX, hostY: p5HostY,
    arrows: p5Arrows, tip: 4.28, phot: photPoints(p5PhotX, p5PhotY, p5PhotLo, p5PhotHi, p5PhotYErr), nameX: 185, nameY: 1413, yTitleX: 79, xTitleX: 492 },
  { name: 'PKS 1138', L: 1033, T: 1336, R: 1750, B: 1850, xd: [6.427, 11.151], yd: [0, 15.4], xl: [7, 8, 9, 10, 11], xm: 0.2, yl: [2, 4, 6, 8, 10, 12, 14], ym: 0.5, yDec: 0,
    wave: p6Wave, flux: p6Flux, err: p6Err, fitX: p6FitX, fitY: p6FitY, plX: p6PlX, plY: p6PlY, extX: p6ExtX, extY: p6ExtY, hostX: p6HostX, hostY: p6HostY,
    arrows: p6Arrows, tip: 10.86, phot: photPoints(p6PhotX, p6PhotY, p6PhotLo, p6PhotHi, p6PhotYErr), nameX: 1097, nameY: 1406, yTitleX: 966, xTitleX: 1393 },
  { name: 'USS 1410', L: 135, T: 1998, R: 858, B: 2510, xd: [6.04, 10.49], yd: [0, 4.38], xl: [7, 8, 9, 10], xm: 0.1, yl: [1, 2, 3, 4], ym: 0.1, yDec: 0,
    wave: p7Wave, flux: p7Flux, err: p7Err, fitX: p7FitX, fitY: p7FitY, plX: p7PlX, plY: p7PlY, extX: p7ExtX, extY: p7ExtY, hostX: p7HostX, hostY: p7HostY,
    arrows: p7Arrows, tip: 3.08, phot: photPoints(p7PhotX, p7PhotY, p7PhotLo, p7PhotHi, p7PhotYErr), nameX: 199, nameY: 2067, yTitleX: 83, xTitleX: 495, xTitleDy: 55 },
];

const LABEL_STYLE: any = { position: 'absolute', fontFamily: FONT, fontSize: 23, color: INK, whiteSpace: 'nowrap', lineHeight: 1 };

function Panel({ c }: any) {
  const mL = 110, mT = 24, mR = 24, mB = 80;
  const W = c.R - c.L + mL + mR;
  const H = c.B - c.T + mT + mB;
  const xTicks = tickList(c.xd, c.xm);
  const yTicks = tickList(c.yd, c.ym);
  const hist = histPoints(c.wave, c.flux);
  const band = bandPoints(c.wave, c.flux, c.err);
  const fit = curve(c.fitX, c.fitY);
  const pl = curve(c.plX, c.plY);
  const ext = curve(c.extX, c.extY);
  const host = curve(c.hostX, c.hostY);
  const arrows = c.arrows.map((x: number) => ({ x, y: c.tip }));
  const axisLine = { stroke: INK, strokeWidth: 2 };
  const common = { xAxisId: 'b', yAxisId: 'l', isAnimationActive: false };
  return (
    <React.Fragment>
      <div style={{ position: 'absolute', left: c.L - mL, top: c.T - mT, width: W, height: H }}>
        <ComposedChart width={W} height={H} margin={{ top: mT - 1, right: mR - 1, bottom: mB - 1, left: mL - 1 }}>
          <XAxis xAxisId="b" dataKey="x" type="number" domain={c.xd} allowDataOverflow ticks={xTicks} interval={0}
            height={1} tickSize={0} tickMargin={0} tickLine={false} axisLine={axisLine} tick={makeTick('b', c.xl, 0)} />
          <XAxis xAxisId="t" orientation="top" type="number" domain={c.xd} allowDataOverflow ticks={xTicks} interval={0}
            height={1} tickSize={0} tickMargin={0} tickLine={false} axisLine={axisLine} tick={makeTick('t', c.xl, 0)} />
          <YAxis yAxisId="l" type="number" domain={c.yd} allowDataOverflow ticks={yTicks} interval={0}
            width={1} tickSize={0} tickMargin={0} tickLine={false} axisLine={axisLine} tick={makeTick('l', c.yl, c.yDec)} />
          <YAxis yAxisId="r" orientation="right" type="number" domain={c.yd} allowDataOverflow ticks={yTicks} interval={0}
            width={1} tickSize={0} tickMargin={0} tickLine={false} axisLine={axisLine} tick={makeTick('r', c.yl, c.yDec)} />
          <Area {...common} data={band} dataKey="band" type="stepAfter" stroke="none" fill={SHADE} fillOpacity={1} dot={false} activeDot={false} />
          <Line {...common} data={hist} dataKey="y" type="stepAfter" stroke="#000" strokeWidth={3.2} dot={false} activeDot={false} />
          <Line {...common} data={host} dataKey="y" type="monotone" stroke={GREEN} strokeWidth={3} strokeDasharray="3 5" dot={false} activeDot={false} />
          <Line {...common} data={ext} dataKey="y" type="monotone" stroke={ORANGE} strokeWidth={3.5} strokeDasharray="14 5 3 5" dot={false} activeDot={false} />
          <Line {...common} data={pl} dataKey="y" type="monotone" stroke={BLUE} strokeWidth={3.5} strokeDasharray="14 7" dot={false} activeDot={false} />
          <Line {...common} data={fit} dataKey="y" type="monotone" stroke={RED} strokeWidth={4} dot={false} activeDot={false} />
          <Scatter {...common} data={c.phot} dataKey="y" fill={PURPLE} shape={PhotMark}>
            <ErrorBar dataKey="xe" direction="x" width={5} stroke={PURPLE} strokeWidth={3.5} isAnimationActive={false} />
            <ErrorBar dataKey="ye" direction="y" width={5} stroke={PURPLE} strokeWidth={3} isAnimationActive={false} />
          </Scatter>
          <Scatter {...common} data={arrows} dataKey="y" fill="#000" shape={ArrowMark} />
        </ComposedChart>
      </div>
      <div style={{ ...LABEL_STYLE, left: c.nameX, top: c.nameY, transform: 'translateY(-50%)', letterSpacing: 0.5, wordSpacing: 4 }}>{c.name}</div>
      <div style={{ ...LABEL_STYLE, left: c.xTitleX, top: c.B + (c.xTitleDy || 58), transform: 'translate(-50%,-50%)', letterSpacing: 0.8, wordSpacing: 4 }}>
        Rest wavelength [{'\u03bc'}m]
      </div>
      <div style={{ ...LABEL_STYLE, left: c.yTitleX, top: (c.T + c.B) / 2, transform: 'translate(-50%,-50%) rotate(-90deg)', letterSpacing: 0.6, wordSpacing: 5 }}>
        L<span style={{ fontSize: 15, position: 'relative', top: 5 }}>{'\u03bd'}</span> ({'\u00d7'}10<span style={{ fontSize: 15, position: 'relative', top: -10 }}>25</span>) [WHz<span style={{ fontSize: 15, position: 'relative', top: -10 }}>{'\u2212'}1</span>]
      </div>
    </React.Fragment>
  );
}

function Caption() {
  const lineH = 44.7;
  return (
    <div style={{ position: 'absolute', left: 922, top: 1980, width: 900, height: 700, boxSizing: 'border-box', border: '7px solid #0a0a0a', background: '#eeeeee', boxShadow: '-5px 0 14px rgba(0,0,0,0.35)' }}>
      {CAPTION_LINES.map((line, i) => {
        const last = i === CAPTION_LINES.length - 1;
        const base: any = {
          position: 'absolute', left: 33, top: 14 + i * lineH, width: 724, height: lineH, lineHeight: `${lineH}px`,
          fontFamily: "'Liberation Sans', Arial, sans-serif", fontSize: 33, color: '#111', whiteSpace: 'nowrap',
          transform: 'scaleX(1.137)', transformOrigin: 'left center', letterSpacing: i === 7 ? 2.3 : 0,
        };
        if (last) return <div key={i} style={base}>{line}</div>;
        return (
          <div key={i} style={{ ...base, display: 'flex', justifyContent: 'space-between' }}>
            {line.split(' ').map((w, j) => <span key={j}>{w}</span>)}
          </div>
        );
      })}
    </div>
  );
}

export default function App() {
  return (
    <div style={{ position: 'absolute', left: 0, top: 0, width: 1751, height: 2580, overflow: 'hidden',
      background: 'linear-gradient(to bottom, #6b6b6b 0%, #767a80 22%, #9aa0a6 42%, #9a8e80 56%, #bb9670 72%, #d6bf98 88%, #e6dcc0 100%)' }}>
      <div style={{ position: 'absolute', left: 17, top: 3, width: 1800, height: 2700, background: '#f8f8f8', borderTopLeftRadius: 14 }} />
      <div style={{ position: 'absolute', left: 32, top: 19, width: 1800, height: 2700,
        background: 'radial-gradient(ellipse 520px 760px at 380px 1050px, rgba(234,234,234,1) 0%, rgba(234,234,234,0) 100%), radial-gradient(ellipse 520px 520px at 330px 2250px, rgba(236,236,236,1) 0%, rgba(236,236,236,0) 100%), #d9d9d9' }} />
      {PANELS.map((c, i) => <Panel key={i} c={c} />)}
      <Caption />
    </div>
  );
}
